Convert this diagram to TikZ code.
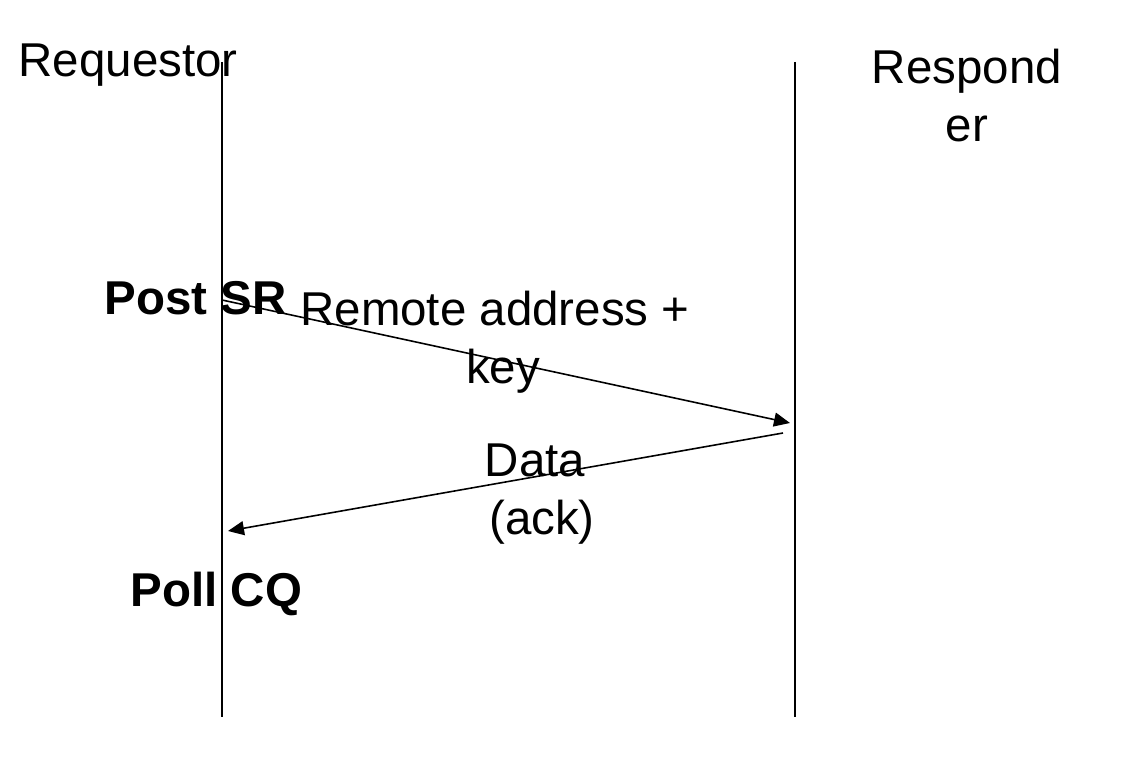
\documentclass[tikz,border=0pt]{standalone}
\usepackage{fontspec}
\setmainfont{Liberation Sans}
\usetikzlibrary{arrows.meta, positioning}

\begin{document}
\begin{tikzpicture}[
    x=0.01cm, y=-0.01cm,
    actor/.style={inner sep=0pt, font=\fontsize{13.5}{16.5}\selectfont, align=center},
    act/.style={inner sep=0pt, font=\fontsize{13.5}{16.5}\selectfont\bfseries},
    note/.style={inner sep=0pt, font=\fontsize{13.5}{16.5}\selectfont, align=center},
    life/.style={line width=0.45pt},
    arr/.style={line width=0.45pt, -{Triangle[length=0.16cm, width=0.14cm]}}
]
\useasboundingbox (0,0) rectangle (1138,767);

% Actors
\node[actor, anchor=base west] (req) at (18, 77) {Requestor};
\node[actor, anchor=north] (resp) at (967, 48) {Respond\\er};

% Lifelines
\coordinate (reqtop) at (222, 62);
\coordinate (reqbot) at (222, 717);
\coordinate (resptop) at (795, 62);
\coordinate (respbot) at (795, 717);
\draw[life] (reqtop) -- (reqbot);
\draw[life] (resptop) -- (respbot);

% Messages
\coordinate (m1s) at (222, 300);
\coordinate (m1e) at (790, 423);
\coordinate (m2s) at (783, 433);
\coordinate (m2e) at (228, 531);
\draw[arr] (m1s) -- (m1e);
\draw[arr] (m2s) -- (m2e);

% Labels
\node[act, anchor=base west] (post) at (104, 315) {Post SR};
\node[note, anchor=north] (addr) at (495, 290) {Remote address +\\\hspace*{0.16cm}key};
\node[note, anchor=north] (data) at (535, 443) {Data\\\hspace*{0.14cm}(ack)};
\node[act, anchor=base west] (poll) at (130, 607) {Poll CQ};

\end{tikzpicture}
\end{document}
